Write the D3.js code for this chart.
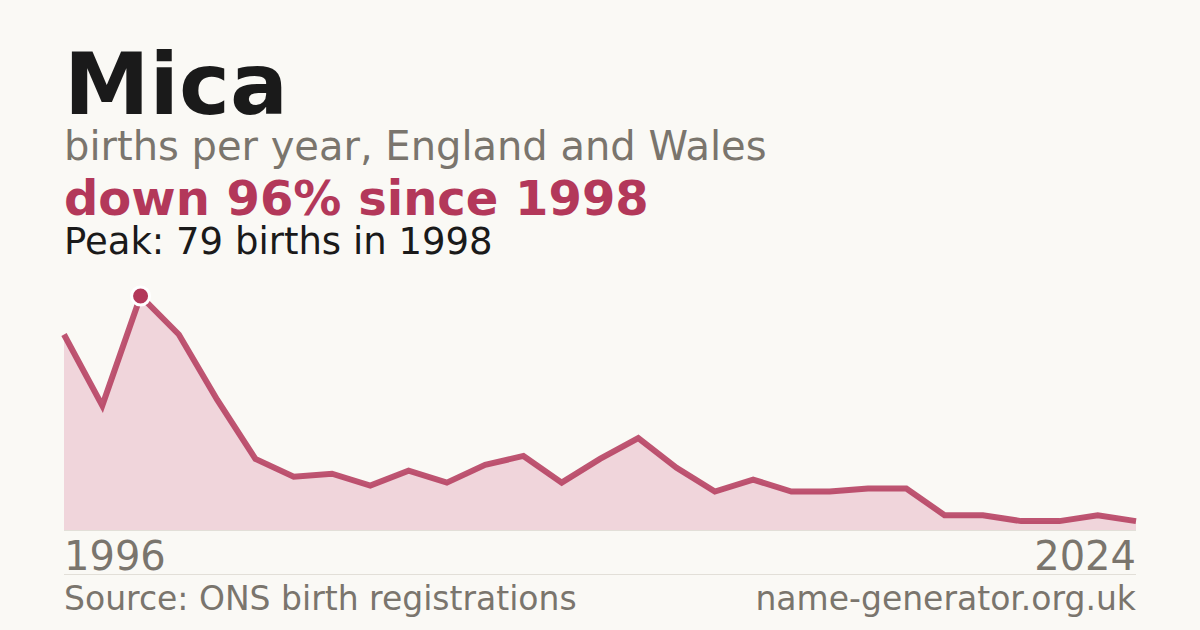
<!DOCTYPE html>
<html>
<head>
<meta charset="utf-8">
<script src="https://cdn.jsdelivr.net/npm/d3@7"></script>
<style>
  html, body { margin: 0; padding: 0; background: #faf9f5; }
  svg { display: block; font-family: "DejaVu Sans", sans-serif; }
</style>
</head>
<body>
<svg id="chart" width="1200" height="630"></svg>
<script>
// births per year, 1996..2024
const years = d3.range(1996, 2025);
const births = [66, 42, 79, 66, 44, 24, 18, 19, 15, 20, 16, 22, 25, 16, 24, 31, 21, 13, 17, 13, 13, 14, 14, 5, 5, 3, 3, 5, 3];
const peakYear = 1998;
const peakValue = 79;

const red = '#b3385a';
const grey = '#7a756d';

const svg = d3.select('#chart');
svg.append('rect').attr('width', 1200).attr('height', 630).attr('fill', '#faf9f5');

const data = years.map((y, i) => ({year: y, value: births[i]}));

const x = d3.scaleLinear().domain([1996, 2024]).range([64, 1136]);
const y = d3.scaleLinear().domain([0, peakValue]).range([530, 296]);

// headings
svg.append('text').attr('x', 64).attr('y', 114)
   .attr('font-size', 86).attr('font-weight', 'bold').attr('fill', '#1a1a1a')
   .text('Mica');
svg.append('text').attr('x', 64).attr('y', 160)
   .attr('font-size', 40).attr('fill', grey)
   .text('births per year, England and Wales');
svg.append('text').attr('x', 64).attr('y', 215)
   .attr('font-size', 48).attr('font-weight', 'bold').attr('fill', red)
   .text('down 96% since 1998');
svg.append('text').attr('x', 64).attr('y', 254)
   .attr('font-size', 37).attr('fill', '#1a1a1a')
   .text(`Peak: ${peakValue} births in ${peakYear}`);

// area + line
svg.append('path').datum(data)
   .attr('fill', '#f0d5db')
   .attr('d', d3.area().x(d => x(d.year)).y0(y(0)).y1(d => y(d.value)));

svg.append('line').attr('x1', 64).attr('x2', 1136).attr('y1', 530.5).attr('y2', 530.5)
   .attr('stroke', '#e2dfd8').attr('stroke-width', 1);

svg.append('path').datum(data)
   .attr('fill', 'none').attr('stroke', red).attr('stroke-width', 6).attr('opacity', 0.85)
   .attr('d', d3.line().x(d => x(d.year)).y(d => y(d.value)));

svg.append('circle').attr('cx', x(peakYear)).attr('cy', y(peakValue)).attr('r', 9)
   .attr('fill', red).attr('stroke', '#ffffff').attr('stroke-width', 3);

// year labels
svg.append('text').attr('x', 64).attr('y', 570)
   .attr('font-size', 40).attr('fill', grey).text(years[0]);
svg.append('text').attr('x', 1136).attr('y', 570).attr('text-anchor', 'end')
   .attr('font-size', 40).attr('fill', grey).text(years[years.length - 1]);

// footer
svg.append('line').attr('x1', 64).attr('x2', 1136).attr('y1', 574.5).attr('y2', 574.5)
   .attr('stroke', '#e2dfd8').attr('stroke-width', 1);
svg.append('text').attr('x', 64).attr('y', 610)
   .attr('font-size', 33).attr('fill', grey).text('Source: ONS birth registrations');
svg.append('text').attr('x', 1136).attr('y', 610).attr('text-anchor', 'end')
   .attr('font-size', 33).attr('fill', grey).text('name-generator.org.uk');
</script>
</body>
</html>
